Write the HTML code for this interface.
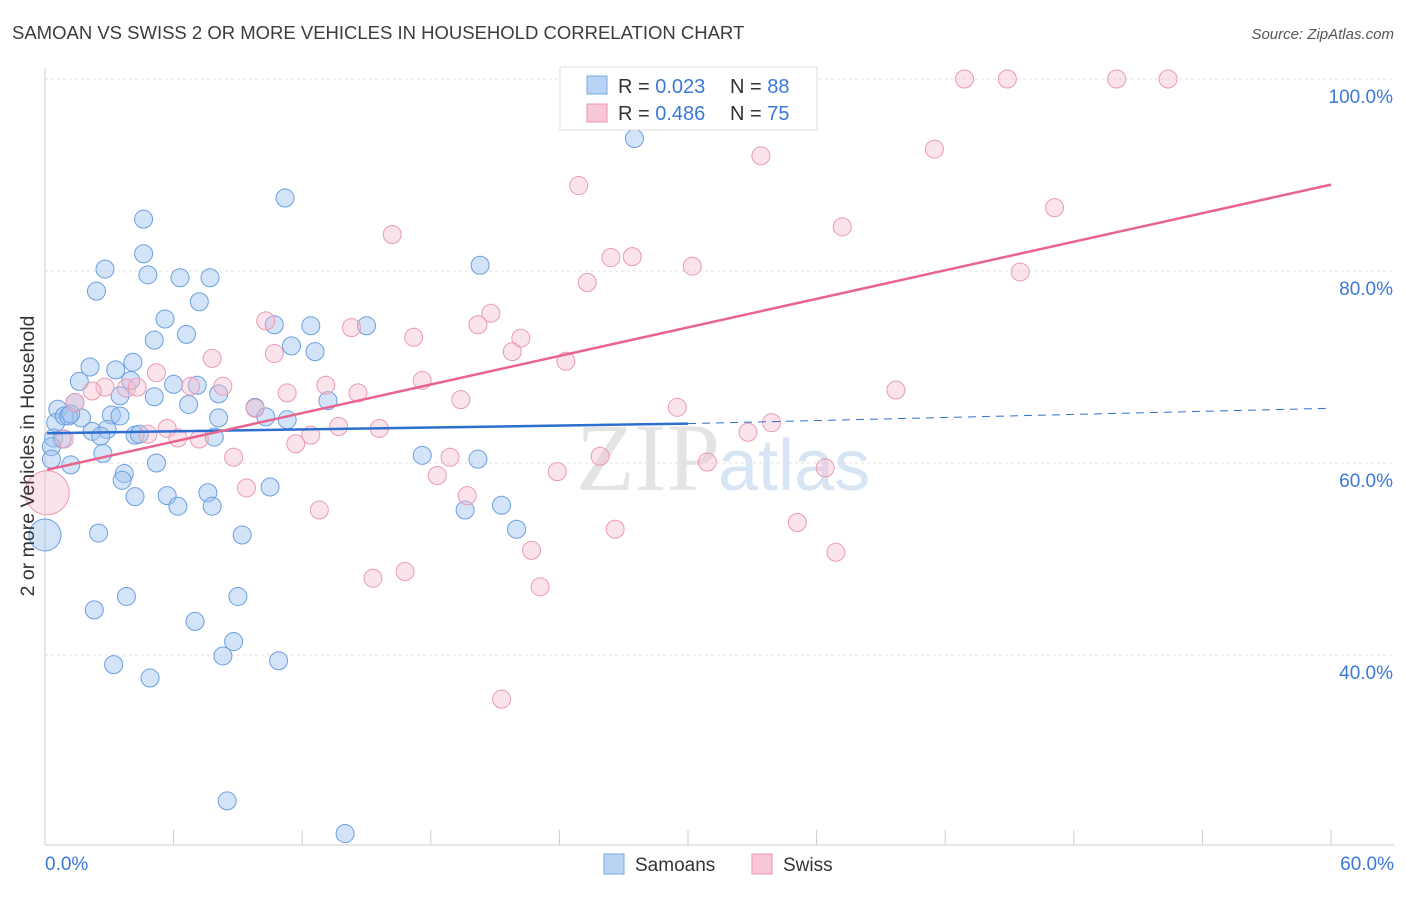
<!DOCTYPE html>
<html><head><meta charset="utf-8"><style>
body{margin:0;background:#fff;font-family:"Liberation Sans",sans-serif;}
</style></head><body>
<svg width="1406" height="892" style="font-family:'Liberation Sans',sans-serif">
<text x="12" y="39" font-size="18.5" fill="#3c3c3c">SAMOAN VS SWISS 2 OR MORE VEHICLES IN HOUSEHOLD CORRELATION CHART</text>
<text x="1394" y="39" font-size="15" fill="#555" text-anchor="end" font-style="italic">Source: ZipAtlas.com</text>
<text x="720" y="490" font-size="96" fill="#e4e4e4" text-anchor="end" font-family="Liberation Serif">ZIP</text>
<text x="718" y="490" font-size="72" fill="#d7e4f3">atlas</text>
<g id="grid"></g>
<g id="axes"></g>
<g id="marks"></g>
<text x="34" y="456" font-size="19.5" fill="#333" text-anchor="middle" transform="rotate(-90 34 456)">2 or more Vehicles in Household</text>
<g>
<rect x="560" y="67" width="257" height="63" fill="#fff" stroke="#ddd"/>
<rect x="587" y="76" width="20" height="18" fill="#b8d3f3" stroke="#7aa8e0"/>
<text x="618" y="93" font-size="20" fill="#333">R = <tspan fill="#3b78d8">0.023</tspan></text>
<text x="730" y="93" font-size="20" fill="#333">N = <tspan fill="#3b78d8">88</tspan></text>
<rect x="587" y="104" width="20" height="18" fill="#f8c8d6" stroke="#eb93ad"/>
<text x="618" y="120" font-size="20" fill="#333">R = <tspan fill="#3b78d8">0.486</tspan></text>
<text x="730" y="120" font-size="20" fill="#333">N = <tspan fill="#3b78d8">75</tspan></text>
</g>
<g>
<rect x="604" y="854" width="20" height="20" fill="#b8d3f3" stroke="#7aa8e0"/>
<text x="635" y="871" font-size="19" fill="#333">Samoans</text>
<rect x="752" y="854" width="20" height="20" fill="#f8c8d6" stroke="#eb93ad"/>
<text x="783" y="871" font-size="19" fill="#333">Swiss</text>
</g>
</svg>
<script>
const yTicks=[40,60,80,100];
const xTickLabels=["0.0%","60.0%"];
const blueX=[27.5,11.2,4.6,20.3,4.6,2.8,4.8,6.3,7.7,2.4,7.2,5.6,10.7,12.4,15.0,5.1,6.6,11.5,12.6,4.1,2.1,3.3,1.6,4.0,6.0,7.1,3.5,5.1,8.1,13.2,0.6,1.4,6.7,0.5,0.9,1.7,3.1,3.5,9.8,10.3,11.3,8.1,1.1,1.2,2.2,2.9,2.6,4.2,4.4,7.9,0.4,0.8,0.3,2.7,0.3,1.2,5.2,17.6,20.2,3.7,3.6,4.2,5.7,7.6,6.2,7.8,10.5,21.3,19.6,22.0,2.5,9.2,0.0,3.8,9.0,2.3,7.0,8.8,8.3,10.9,3.2,4.9,8.5,14.0];
const blueY=[93.8,87.6,85.4,80.6,81.8,80.2,79.6,79.3,79.3,77.9,76.8,75.0,74.4,74.3,74.3,72.8,73.4,72.2,71.6,70.5,70.0,69.7,68.5,68.6,68.2,68.1,67.0,66.9,67.2,66.5,65.6,66.3,66.1,64.2,64.9,64.7,65.0,64.9,65.8,64.8,64.5,64.7,64.9,65.1,63.3,63.5,62.8,62.9,63.0,62.7,62.6,62.5,61.7,61.0,60.4,59.8,60.0,60.8,60.4,58.9,58.2,56.5,56.6,56.9,55.5,55.5,57.5,55.6,55.1,53.1,52.7,52.5,52.5,46.1,46.1,44.7,43.5,41.4,39.9,39.4,39.0,37.6,24.8,21.4];
const pinkX=[31.8,42.9,44.9,50.0,52.4,35.3,33.4,41.5,24.9,47.1,37.2,16.2,26.4,27.4,30.2,45.5,25.3,10.3,20.8,20.2,14.3,22.2,17.2,10.7,21.8,7.8,24.3,5.2,17.6,13.1,3.8,4.3,2.8,2.2,6.8,8.3,11.3,14.6,19.4,39.7,29.5,9.8,1.4,13.7,5.7,15.6,4.8,6.2,7.2,12.4,11.7,33.9,32.8,0.9,8.8,18.9,25.9,30.9,23.9,18.3,36.4,9.4,19.7,12.8,35.1,26.6,22.7,36.9,16.8,15.3,23.1,21.3,0.1];
const pinkY=[100,100,100,100,100,96.5,92.0,92.7,88.9,86.6,84.6,83.8,81.4,81.5,80.5,79.9,78.8,74.8,75.6,74.4,74.1,73.0,73.1,71.4,71.6,70.9,70.6,69.4,68.6,68.1,67.8,67.9,67.9,67.5,68.0,68.0,67.3,67.3,66.6,67.6,65.8,65.7,66.3,63.8,63.6,63.6,63.0,62.6,62.5,62.9,62.0,64.2,63.2,62.5,60.6,60.6,60.7,60.1,59.1,58.7,59.5,57.4,56.6,55.1,53.8,53.1,50.9,50.7,48.7,48.0,47.1,35.4,56.9];
const blueTrend=[[0.1,63.1],[30,64.1],[60,65.7]];
const pinkTrend=[[0.1,59.3],[60,89.0]];
const X=v=>45+v/60*1286, Y=v=>79+(100-v)*9.6;
const ns="http://www.w3.org/2000/svg";
function mk(tag,attrs,parent){const e=document.createElementNS(ns,tag);for(const k in attrs)e.setAttribute(k,attrs[k]);parent.appendChild(e);return e;}
const grid=document.getElementById('grid'),axes=document.getElementById('axes'),marks=document.getElementById('marks');
yTicks.forEach(t=>{
 const l=mk('line',{x1:45,x2:1394,y1:Y(t),y2:Y(t),stroke:'#e2e2e2','stroke-dasharray':'3,3'},grid);
 
 
 const tx=mk('text',{x:1393,y:Y(t)+24,'font-size':19,fill:'#3b78d8','text-anchor':'end'},axes);
 tx.textContent=t.toFixed(1)+'%';
 
 
});
mk('line',{x1:45,x2:45,y1:68,y2:845,stroke:'#ccc'},axes);
mk('line',{x1:45,x2:1394,y1:845,y2:845,stroke:'#ccc'},axes);
for(let i=0;i<=10;i++){const x=X(i*6);mk('line',{x1:x,x2:x,y1:830,y2:845,stroke:'#ccc'},axes);}
const xl0=mk('text',{x:45,y:870,'font-size':19,fill:'#3b78d8'},axes);xl0.textContent=xTickLabels[0];


const xl1=mk('text',{x:1394,y:870,'font-size':19,fill:'#3b78d8','text-anchor':'end'},axes);xl1.textContent=xTickLabels[1];


blueX.forEach((v,i)=>{const r=(v===0)?16:9;
 const c=mk('circle',{cx:X(v),cy:Y(blueY[i]),r:r,fill:'rgba(160,196,240,0.45)',stroke:'#6a9fe0','stroke-width':1},marks);
 
 });
pinkX.forEach((v,i)=>{const r=(i===pinkX.length-1)?22:9;
 const c=mk('circle',{cx:X(v),cy:Y(pinkY[i]),r:r,fill:'rgba(246,184,204,0.4)',stroke:'#eb9ab4','stroke-width':1},marks);
 
 });
const b1=mk('line',{x1:X(blueTrend[0][0]),y1:Y(blueTrend[0][1]),x2:X(blueTrend[1][0]),y2:Y(blueTrend[1][1]),stroke:'#2d6fd0','stroke-width':2.5},marks);


const b2=mk('line',{x1:X(blueTrend[1][0]),y1:Y(blueTrend[1][1]),x2:X(blueTrend[2][0]),y2:Y(blueTrend[2][1]),stroke:'#2d6fd0','stroke-width':1,'stroke-dasharray':'8,6'},marks);


const p1=mk('line',{x1:X(pinkTrend[0][0]),y1:Y(pinkTrend[0][1]),x2:X(pinkTrend[1][0]),y2:Y(pinkTrend[1][1]),stroke:'#e8648f','stroke-width':2.5},marks);


</script>
</body></html>
